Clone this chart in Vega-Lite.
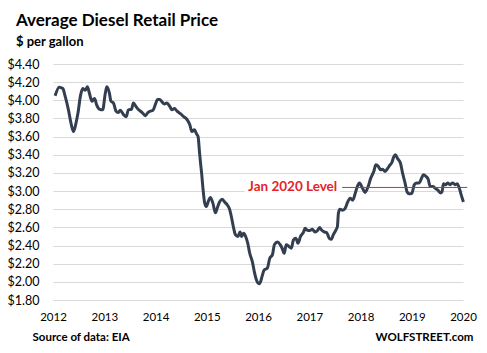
{
  "$schema": "https://vega.github.io/schema/vega-lite/v6.json",
  "width": 410,
  "height": 236,
  "autosize": {"type": "none"},
  "padding": {"left": 53, "top": 64, "right": 24, "bottom": 53},
  "background": "white",
  "config": {"view": {"stroke": null}, "font": "Lato"},
  "title": {
    "text": "Average Diesel Retail Price",
    "subtitle": "$ per gallon",
    "anchor": "start",
    "frame": "group",
    "dx": -37,
    "offset": 8,
    "font": "Lato",
    "fontSize": 17,
    "fontWeight": "bold",
    "color": "#000000",
    "subtitleFont": "Lato",
    "subtitleFontSize": 13,
    "subtitleFontWeight": "bold",
    "subtitleColor": "#000000",
    "subtitlePadding": 6
  },
  "datasets": {
    "diesel": [
      {"date": "2012-01-16", "price": 4.05},
      {"date": "2012-02-14", "price": 4.145},
      {"date": "2012-03-11", "price": 4.13},
      {"date": "2012-03-25", "price": 4.06},
      {"date": "2012-04-20", "price": 3.895},
      {"date": "2012-05-08", "price": 3.75},
      {"date": "2012-05-26", "price": 3.655},
      {"date": "2012-06-13", "price": 3.75},
      {"date": "2012-06-27", "price": 3.86},
      {"date": "2012-07-16", "price": 4.06},
      {"date": "2012-07-31", "price": 4.13},
      {"date": "2012-08-18", "price": 4.11},
      {"date": "2012-09-02", "price": 4.15},
      {"date": "2012-09-16", "price": 4.08},
      {"date": "2012-10-05", "price": 3.99},
      {"date": "2012-10-23", "price": 4.02},
      {"date": "2012-11-07", "price": 3.95},
      {"date": "2012-11-29", "price": 3.9},
      {"date": "2012-12-20", "price": 3.895},
      {"date": "2013-01-08", "price": 4.08},
      {"date": "2013-01-19", "price": 4.15},
      {"date": "2013-02-06", "price": 4.08},
      {"date": "2013-02-17", "price": 3.99},
      {"date": "2013-03-07", "price": 3.97},
      {"date": "2013-03-25", "price": 3.88},
      {"date": "2013-04-09", "price": 3.865},
      {"date": "2013-04-24", "price": 3.89},
      {"date": "2013-05-19", "price": 3.84},
      {"date": "2013-06-06", "price": 3.82},
      {"date": "2013-06-21", "price": 3.895},
      {"date": "2013-07-13", "price": 3.9},
      {"date": "2013-07-27", "price": 3.97},
      {"date": "2013-08-15", "price": 3.93},
      {"date": "2013-09-02", "price": 3.895},
      {"date": "2013-09-28", "price": 3.865},
      {"date": "2013-10-20", "price": 3.83},
      {"date": "2013-11-07", "price": 3.865},
      {"date": "2013-11-25", "price": 3.88},
      {"date": "2013-12-13", "price": 3.89},
      {"date": "2014-01-01", "price": 3.96},
      {"date": "2014-01-15", "price": 4.01},
      {"date": "2014-01-30", "price": 4.01},
      {"date": "2014-02-17", "price": 3.98},
      {"date": "2014-03-04", "price": 3.96},
      {"date": "2014-03-22", "price": 3.97},
      {"date": "2014-04-13", "price": 3.93},
      {"date": "2014-04-28", "price": 3.895},
      {"date": "2014-05-16", "price": 3.91},
      {"date": "2014-06-03", "price": 3.88},
      {"date": "2014-06-29", "price": 3.85},
      {"date": "2014-07-20", "price": 3.82},
      {"date": "2014-08-15", "price": 3.785},
      {"date": "2014-09-02", "price": 3.73},
      {"date": "2014-09-17", "price": 3.655},
      {"date": "2014-10-05", "price": 3.675},
      {"date": "2014-10-20", "price": 3.63},
      {"date": "2014-10-31", "price": 3.6},
      {"date": "2014-11-10", "price": 3.43},
      {"date": "2014-11-18", "price": 3.3},
      {"date": "2014-11-25", "price": 3.2},
      {"date": "2014-12-06", "price": 3.01},
      {"date": "2014-12-17", "price": 2.87},
      {"date": "2014-12-28", "price": 2.83},
      {"date": "2015-01-15", "price": 2.9},
      {"date": "2015-01-26", "price": 2.93},
      {"date": "2015-02-13", "price": 2.87},
      {"date": "2015-03-04", "price": 2.76},
      {"date": "2015-03-18", "price": 2.82},
      {"date": "2015-04-02", "price": 2.88},
      {"date": "2015-04-20", "price": 2.91},
      {"date": "2015-05-08", "price": 2.88},
      {"date": "2015-05-26", "price": 2.85},
      {"date": "2015-06-10", "price": 2.81},
      {"date": "2015-06-25", "price": 2.72},
      {"date": "2015-07-09", "price": 2.61},
      {"date": "2015-07-24", "price": 2.52},
      {"date": "2015-08-11", "price": 2.5},
      {"date": "2015-08-26", "price": 2.55},
      {"date": "2015-09-06", "price": 2.5},
      {"date": "2015-09-21", "price": 2.535},
      {"date": "2015-10-05", "price": 2.5},
      {"date": "2015-10-20", "price": 2.425},
      {"date": "2015-11-03", "price": 2.315},
      {"date": "2015-11-22", "price": 2.22},
      {"date": "2015-12-06", "price": 2.11},
      {"date": "2015-12-21", "price": 2.02},
      {"date": "2016-01-08", "price": 1.98},
      {"date": "2016-01-19", "price": 2.0},
      {"date": "2016-01-30", "price": 2.06},
      {"date": "2016-02-14", "price": 2.13},
      {"date": "2016-03-07", "price": 2.15},
      {"date": "2016-03-25", "price": 2.26},
      {"date": "2016-04-13", "price": 2.3},
      {"date": "2016-04-27", "price": 2.41},
      {"date": "2016-05-19", "price": 2.44},
      {"date": "2016-06-07", "price": 2.41},
      {"date": "2016-06-21", "price": 2.37},
      {"date": "2016-07-06", "price": 2.315},
      {"date": "2016-07-20", "price": 2.41},
      {"date": "2016-08-08", "price": 2.39},
      {"date": "2016-08-26", "price": 2.37},
      {"date": "2016-09-09", "price": 2.46},
      {"date": "2016-09-27", "price": 2.48},
      {"date": "2016-10-12", "price": 2.425},
      {"date": "2016-10-30", "price": 2.5},
      {"date": "2016-11-21", "price": 2.55},
      {"date": "2016-12-01", "price": 2.59},
      {"date": "2016-12-16", "price": 2.57},
      {"date": "2017-01-04", "price": 2.565},
      {"date": "2017-01-22", "price": 2.58},
      {"date": "2017-02-10", "price": 2.55},
      {"date": "2017-02-28", "price": 2.565},
      {"date": "2017-03-15", "price": 2.6},
      {"date": "2017-03-29", "price": 2.57},
      {"date": "2017-04-16", "price": 2.55},
      {"date": "2017-05-05", "price": 2.54},
      {"date": "2017-05-23", "price": 2.48},
      {"date": "2017-06-07", "price": 2.47},
      {"date": "2017-06-21", "price": 2.52},
      {"date": "2017-07-09", "price": 2.57},
      {"date": "2017-07-20", "price": 2.61},
      {"date": "2017-07-27", "price": 2.755},
      {"date": "2017-08-07", "price": 2.8},
      {"date": "2017-08-26", "price": 2.79},
      {"date": "2017-09-13", "price": 2.81},
      {"date": "2017-10-01", "price": 2.88},
      {"date": "2017-10-19", "price": 2.92},
      {"date": "2017-11-06", "price": 2.9},
      {"date": "2017-11-24", "price": 2.975},
      {"date": "2017-12-09", "price": 3.05},
      {"date": "2017-12-24", "price": 3.09},
      {"date": "2018-01-15", "price": 3.03},
      {"date": "2018-02-02", "price": 2.985},
      {"date": "2018-02-24", "price": 3.05},
      {"date": "2018-03-14", "price": 3.14},
      {"date": "2018-04-05", "price": 3.215},
      {"date": "2018-04-20", "price": 3.29},
      {"date": "2018-05-08", "price": 3.27},
      {"date": "2018-05-23", "price": 3.235},
      {"date": "2018-06-07", "price": 3.24},
      {"date": "2018-06-25", "price": 3.215},
      {"date": "2018-07-13", "price": 3.25},
      {"date": "2018-07-31", "price": 3.29},
      {"date": "2018-08-11", "price": 3.31},
      {"date": "2018-08-26", "price": 3.38},
      {"date": "2018-09-06", "price": 3.4},
      {"date": "2018-09-21", "price": 3.36},
      {"date": "2018-10-12", "price": 3.31},
      {"date": "2018-10-27", "price": 3.2},
      {"date": "2018-11-14", "price": 3.09},
      {"date": "2018-11-29", "price": 2.99},
      {"date": "2018-12-13", "price": 2.97},
      {"date": "2019-01-01", "price": 2.975},
      {"date": "2019-01-19", "price": 3.07},
      {"date": "2019-02-06", "price": 3.09},
      {"date": "2019-02-24", "price": 3.09},
      {"date": "2019-03-11", "price": 3.14},
      {"date": "2019-03-25", "price": 3.18},
      {"date": "2019-04-13", "price": 3.16},
      {"date": "2019-04-28", "price": 3.13},
      {"date": "2019-05-12", "price": 3.05},
      {"date": "2019-05-31", "price": 3.05},
      {"date": "2019-06-18", "price": 3.03},
      {"date": "2019-07-06", "price": 3.01},
      {"date": "2019-07-24", "price": 2.98},
      {"date": "2019-08-04", "price": 2.99},
      {"date": "2019-08-15", "price": 3.08},
      {"date": "2019-08-30", "price": 3.07},
      {"date": "2019-09-13", "price": 3.09},
      {"date": "2019-10-01", "price": 3.07},
      {"date": "2019-10-19", "price": 3.09},
      {"date": "2019-11-06", "price": 3.07},
      {"date": "2019-11-21", "price": 3.08},
      {"date": "2019-12-02", "price": 3.05},
      {"date": "2019-12-16", "price": 2.975},
      {"date": "2020-01-04", "price": 2.88}
    ],
    "note": [
      {"start": "2017-08-23", "end": "2020-01-31", "price": 3.04, "label": "Jan 2020 Level"}
    ]
  },
  "layer": [
    {
      "data": {"name": "diesel"},
      "mark": {"type": "line", "color": "#333f50", "strokeWidth": 3, "interpolate": "monotone"},
      "encoding": {
        "x": {
          "field": "date", "type": "temporal",
          "scale": {"domain": ["2012-01-01", "2020-01-01"]},
          "axis": {
            "title": "Source of data: EIA",
            "titleFont": "Lato", "titleFontSize": 11.5, "titleFontWeight": "bold", "titleColor": "#000000",
            "titleAlign": "left", "titleAnchor": null, "titleX": -21, "titleY": 37, "titleBaseline": "middle",
            "format": "%Y", "tickCount": {"interval": "year", "step": 1},
            "grid": false, "ticks": false, "domain": false, "labelFlush": false, "labelAlign": "center",
            "labelFont": "Lato", "labelFontSize": 11.5, "labelColor": "#000000", "labelPadding": 11
          }
        },
        "y": {
          "field": "price", "type": "quantitative",
          "scale": {"domain": [1.8, 4.4], "nice": false, "zero": false},
          "axis": {
            "title": null, "format": "$.2f", "values": [1.8, 2.0, 2.2, 2.4, 2.6, 2.8, 3.0, 3.2, 3.4, 3.6, 3.8, 4.0, 4.2, 4.4],
            "grid": true, "gridColor": "#d9d9d9", "gridWidth": 1,
            "ticks": false, "domain": false,
            "labelFont": "Lato", "labelFontSize": 12.5, "labelColor": "#000000", "labelPadding": 14
          }
        }
      }
    },
    {
      "data": {"name": "note"},
      "mark": {"type": "rule", "color": "#e3242b", "strokeWidth": 1},
      "encoding": {
        "x": {"field": "start", "type": "temporal"},
        "x2": {"field": "end"},
        "y": {
          "field": "price", "type": "quantitative",
          "axis": {
            "orient": "right", "title": "WOLFSTREET.com", "labels": false, "ticks": false, "domain": false, "grid": false,
            "titleAngle": 0, "titleAlign": "right", "titleAnchor": null, "titleX": 10, "titleY": 273, "titleBaseline": "middle",
            "titleFont": "Lato", "titleFontSize": 11.5, "titleFontWeight": "bold", "titleColor": "#000000"
          }
        }
      }
    },
    {
      "data": {"name": "note"},
      "mark": {"type": "text", "align": "right", "baseline": "middle", "dx": -5, "font": "Lato", "fontSize": 13.5, "fontWeight": "bold", "fill": "white", "stroke": "white", "strokeWidth": 7},
      "encoding": {
        "x": {"field": "start", "type": "temporal"},
        "y": {"field": "price", "type": "quantitative", "axis": null},
        "text": {"field": "label"}
      }
    },
    {
      "data": {"name": "note"},
      "mark": {"type": "text", "align": "right", "baseline": "middle", "dx": -5, "font": "Lato", "fontSize": 13.5, "fontWeight": "bold", "color": "#e3242b"},
      "encoding": {
        "x": {"field": "start", "type": "temporal"},
        "y": {"field": "price", "type": "quantitative", "axis": null},
        "text": {"field": "label"}
      }
    }
  ],
  "resolve": {"axis": {"y": "independent"}}
}
